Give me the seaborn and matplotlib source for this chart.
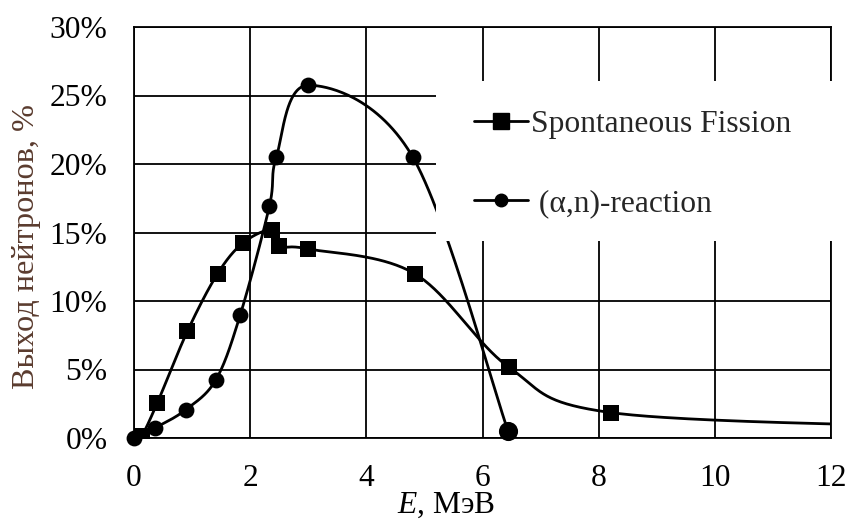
import numpy as np
import pandas as pd
import matplotlib
matplotlib.use("Agg")
import matplotlib.pyplot as plt
import seaborn as sns
from matplotlib.lines import Line2D
from matplotlib.patches import Rectangle
from matplotlib.ticker import PercentFormatter

# Neutron yield spectra (energy in MeV, yield in %)
energy_sf = [0.0, 0.13, 0.40, 0.92, 1.44, 1.88, 2.37, 2.50, 3.00, 4.83, 6.46, 8.22, 14.0]
yield_sf = [0.0, 0.15, 2.55, 7.8, 12.0, 14.25, 15.2, 14.0, 13.8, 12.0, 5.15, 1.85, 0.8]

energy_an = [0.0, 0.36, 0.89, 1.41, 1.83, 2.33, 2.45, 3.00, 4.80, 6.44]
yield_an = [0.0, 0.73, 2.06, 4.25, 9.0, 16.9, 20.5, 25.75, 20.5, 0.5]

label_sf = "Spontaneous Fission"
label_an = " (α,n)-reaction"
x_ticks = [0, 2, 4, 6, 8, 10, 12]
y_ticks = [0, 5, 10, 15, 20, 25, 30]

sns.set_theme(style="white")
plt.rcParams["font.family"] = ["Liberation Serif", "DejaVu Serif"]
plt.rcParams["mathtext.fontset"] = "custom"
plt.rcParams["mathtext.rm"] = "Liberation Serif"
plt.rcParams["mathtext.it"] = "Liberation Serif:italic"
FS = 22.7


def smooth_curve(x, y, n=60):
    """Piecewise cubic Bezier through the points (spreadsheet-style smoothing)."""
    p = np.column_stack([x, y]).astype(float)
    ext = np.vstack([p[0], p, p[-1]])
    out = []
    t = np.linspace(0, 1, n)[:, None]
    for i in range(len(p) - 1):
        p0, p3 = p[i], p[i + 1]
        c1 = p0 + (ext[i + 2] - ext[i]) / 6.0
        c2 = p3 - (ext[i + 3] - ext[i + 1]) / 6.0
        seg = (1 - t) ** 3 * p0 + 3 * (1 - t) ** 2 * t * c1 + 3 * (1 - t) * t ** 2 * c2 + t ** 3 * p3
        out.append(seg if i == 0 else seg[1:])
    pts = np.vstack(out)
    return pd.DataFrame({"E": pts[:, 0], "Y": pts[:, 1]})


df_sf = pd.DataFrame({"E": energy_sf, "Y": yield_sf})
df_an = pd.DataFrame({"E": energy_an, "Y": yield_an})

fig = plt.figure(figsize=(8.48, 5.21), dpi=100)
ax = fig.add_axes([134 / 848, 1 - 438 / 521, 697 / 848, 411 / 521])

sns.lineplot(data=smooth_curve(energy_sf, yield_sf), x="E", y="Y", sort=False,
             estimator=None, color="black", lw=2.0, ax=ax, zorder=3)
sns.lineplot(data=smooth_curve(energy_an, yield_an), x="E", y="Y", sort=False,
             estimator=None, color="black", lw=2.0, ax=ax, zorder=3)
sns.scatterplot(data=df_sf, x="E", y="Y", marker="s", s=125, color="black",
                edgecolor="black", linewidth=0, ax=ax, zorder=4, clip_on=True)
sns.scatterplot(data=df_an.iloc[:-1], x="E", y="Y", marker="o", s=130, color="black",
                edgecolor="black", linewidth=0, ax=ax, zorder=4, clip_on=False)
sns.scatterplot(data=df_an.iloc[-1:], x="E", y="Y", marker="o", s=190, color="black",
                edgecolor="black", linewidth=0, ax=ax, zorder=4, clip_on=False)

ax.set_xlim(0, 12)
ax.set_ylim(0, 30)
ax.set_xticks(x_ticks)
ax.set_yticks(y_ticks)
ax.yaxis.set_major_formatter(PercentFormatter(decimals=0))
ax.grid(True, color="black", lw=1.3)
ax.set_axisbelow(True)
for sp in ax.spines.values():
    sp.set_color("black")
    sp.set_linewidth(1.3)
ax.tick_params(axis="both", direction="out", length=8, width=1.3, color="black",
               labelsize=FS, labelcolor="black")
ax.tick_params(axis="y", pad=11)
ax.tick_params(axis="x", pad=11)

ax.set_xlabel(r"$\mathit{E}$, МэВ", fontsize=FS, color="black")
ax.xaxis.set_label_coords(0.448, -0.128)
ax.set_ylabel("Выход нейтронов, %", fontsize=FS + 0.5, color="#5a3b2e")
ax.yaxis.set_label_coords(-0.133, 0.465)

# White legend panel
ax.add_patch(Rectangle((436 / 848, 1 - 241 / 521), 1 - 436 / 848, 160 / 521,
                       transform=fig.transFigure, facecolor="white", edgecolor="none",
                       clip_on=False, zorder=6))

handles = [
    Line2D([], [], color="black", lw=2.0, marker="s", markersize=11),
    Line2D([], [], color="black", lw=2.0, marker="o", markersize=9),
]
leg = fig.legend(handles, [label_sf, label_an], loc="center left",
                 bbox_to_anchor=(474 / 848, 1 - 164 / 521), frameon=False,
                 fontsize=FS, borderpad=0, borderaxespad=0, handlelength=1.7,
                 handletextpad=0.12, labelspacing=1.6)
leg.set_zorder(10)

fig.savefig("out.png", dpi=100)
